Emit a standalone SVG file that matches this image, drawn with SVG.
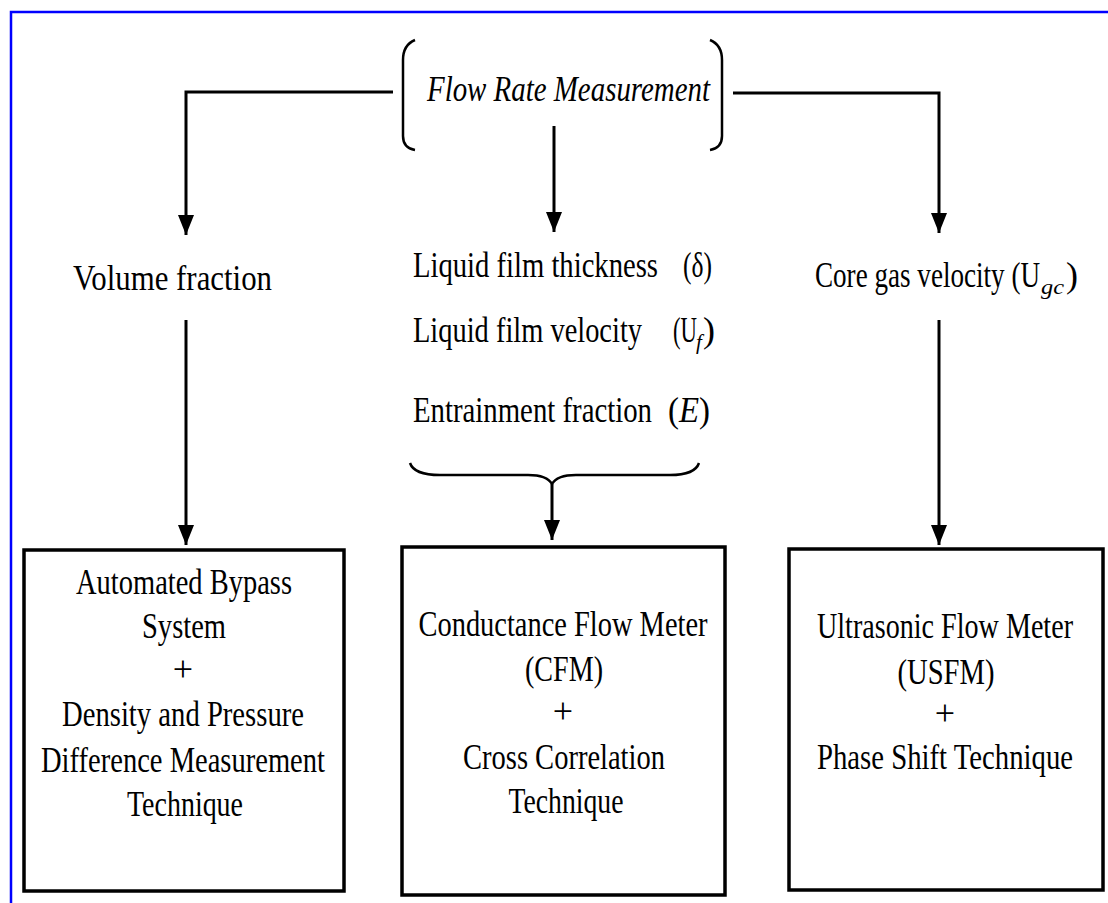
<svg xmlns="http://www.w3.org/2000/svg" width="1108" height="903" viewBox="0 0 1108 903">
<defs>
<style>
.t{font-family:"Liberation Serif","Times New Roman",serif;font-size:36px;fill:#000}
.s{font-size:21px;font-style:italic}
.c{text-anchor:middle}
.i{font-style:italic}
.ln{fill:none;stroke:#000;stroke-width:3}
.br{fill:none;stroke:#000;stroke-width:2.5}
.box{fill:#fff;stroke:#000;stroke-width:3.5}
.fr{fill:none;stroke:#0000ff;stroke-width:2.5}
</style>
<marker id="ah" markerUnits="userSpaceOnUse" markerWidth="20" markerHeight="16" viewBox="0 0 20 16" refX="20" refY="8" orient="auto">
<path d="M0,0 L20,8 L0,16 z" fill="#000"/>
</marker>
</defs>
<rect width="1108" height="903" fill="#fff"/>
<path class="fr" d="M11,903 V12 H1108"/>

<g id="connectors">
<path class="ln" d="M393,92 H186 V235" marker-end="url(#ah)"/>
<path class="ln" d="M554,126 V232" marker-end="url(#ah)"/>
<path class="ln" d="M733,93 H939 V233" marker-end="url(#ah)"/>
<path class="ln" d="M186,320 V545" marker-end="url(#ah)"/>
<path class="ln" d="M939,320 V545" marker-end="url(#ah)"/>
<path class="br" d="M410,463 Q414,475 440,475 H528 Q547,475 552,484 Q557,475 576,475 H670 Q695,475 699,463"/>
<path class="ln" d="M552,484 V540" marker-end="url(#ah)"/>
</g>

<g id="flow-rate">
<path class="br" d="M415,40 Q403,45 403,60 V136 Q403,148 415,150"/>
<path class="br" d="M710,40 Q722,45 722,60 V136 Q722,148 710,150"/>
<text class="t i" x="427" y="101" textLength="283" lengthAdjust="spacingAndGlyphs">Flow Rate Measurement</text>
</g>

<g id="volume-fraction">
<text class="t" x="73" y="290" textLength="199" lengthAdjust="spacingAndGlyphs">Volume fraction</text>
</g>

<g id="liquid-params">
<text class="t" x="413" y="277" textLength="245" lengthAdjust="spacingAndGlyphs">Liquid film thickness</text>
<text class="t" x="683" y="277" textLength="29" lengthAdjust="spacingAndGlyphs">(δ)</text>
<text class="t" x="413" y="342" textLength="229" lengthAdjust="spacingAndGlyphs">Liquid film velocity</text>
<text class="t" x="673" y="342" textLength="24" lengthAdjust="spacingAndGlyphs">(U</text>
<text class="t s" x="696" y="349">f</text>
<text class="t" x="703" y="342">)</text>
<text class="t" x="413" y="422" textLength="239" lengthAdjust="spacingAndGlyphs">Entrainment fraction</text>
<text class="t" x="668" y="422" textLength="42" lengthAdjust="spacingAndGlyphs">(<tspan class="i">E</tspan>)</text>
</g>

<g id="core-gas">
<text class="t" x="815" y="287" textLength="225" lengthAdjust="spacingAndGlyphs">Core gas velocity (U</text>
<text class="t s" x="1041" y="294" textLength="23" lengthAdjust="spacingAndGlyphs">gc</text>
<text class="t" x="1066" y="287">)</text>
</g>

<g id="box-bypass">
<rect class="box" x="24" y="550" width="320" height="341"/>
<text class="t c" x="184" y="594" textLength="216" lengthAdjust="spacingAndGlyphs">Automated Bypass</text>
<text class="t c" x="184" y="638" textLength="84" lengthAdjust="spacingAndGlyphs">System</text>
<text class="t c" x="183" y="681">+</text>
<text class="t c" x="183" y="726" textLength="242" lengthAdjust="spacingAndGlyphs">Density and Pressure</text>
<text class="t c" x="183" y="772" textLength="284" lengthAdjust="spacingAndGlyphs">Difference Measurement</text>
<text class="t c" x="185" y="816" textLength="116" lengthAdjust="spacingAndGlyphs">Technique</text>
</g>

<g id="box-cfm">
<rect class="box" x="402" y="547" width="323" height="348"/>
<text class="t c" x="563" y="636" textLength="289" lengthAdjust="spacingAndGlyphs">Conductance Flow Meter</text>
<text class="t c" x="564" y="681" textLength="78" lengthAdjust="spacingAndGlyphs">(CFM)</text>
<text class="t c" x="563" y="723">+</text>
<text class="t c" x="564" y="769" textLength="202" lengthAdjust="spacingAndGlyphs">Cross Correlation</text>
<text class="t c" x="566" y="813" textLength="115" lengthAdjust="spacingAndGlyphs">Technique</text>
</g>

<g id="box-usfm">
<rect class="box" x="789" y="549" width="314" height="341"/>
<text class="t c" x="945" y="638" textLength="256" lengthAdjust="spacingAndGlyphs">Ultrasonic Flow Meter</text>
<text class="t c" x="946" y="684" textLength="97" lengthAdjust="spacingAndGlyphs">(USFM)</text>
<text class="t c" x="945" y="725">+</text>
<text class="t c" x="945" y="769" textLength="256" lengthAdjust="spacingAndGlyphs">Phase Shift Technique</text>
</g>
</svg>
